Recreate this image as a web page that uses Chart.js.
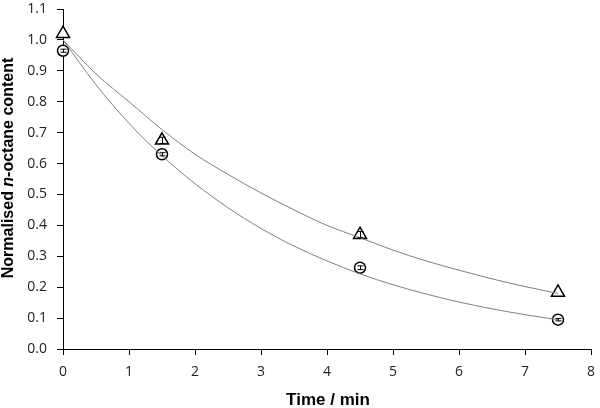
<!DOCTYPE html>
<html>
<head>
<meta charset="utf-8">
<script src="https://cdn.jsdelivr.net/npm/chart.js@4.4.1/dist/chart.umd.min.js"></script>
<style>
  body { margin: 0; background: #fff; }
  #wrap { width: 600px; height: 408px; }
</style>
</head>
<body>
<div id="wrap"><canvas id="chart" width="600" height="408"></canvas></div>
<script>
// measured points
const times = [0, 1.5, 4.5, 7.5]
const triValues = [1.02, 0.675, 0.37, 0.183]
const triErrors = [0, 0.01, 0.01, 0]
const circValues = [0.965, 0.63, 0.263, 0.095]
const circErrors = [0.005, 0.005, 0.006, 0.004]

// fitted curves
const fitTimes = [0, 0.5, 1, 1.5, 2, 2.5, 3, 3.5, 4, 4.5, 5, 5.5, 6, 6.5, 7, 7.5]
const fitUpper = [1.0, 0.89, 0.80, 0.71, 0.63, 0.565, 0.505, 0.45, 0.40, 0.36, 0.32, 0.285, 0.255, 0.227, 0.202, 0.18]
const fitLower = [1.0, 0.855, 0.73, 0.625, 0.535, 0.457, 0.39, 0.333, 0.285, 0.243, 0.208, 0.178, 0.152, 0.13, 0.111, 0.095]

const xTicks = [0, 1, 2, 3, 4, 5, 6, 7, 8]
const yTicks = [0, 0.1, 0.2, 0.3, 0.4, 0.5, 0.6, 0.7, 0.8, 0.9, 1.0, 1.1]

const toXY = (xs, ys) => xs.map((x, i) => ({ x: x, y: ys[i] }))

// error bars + axis titles (y title needs italic "n")
const extras = {
  id: 'extras',
  afterDatasetsDraw(chart) {
    const ctx = chart.ctx
    const xs = chart.scales.x, ys = chart.scales.y
    ctx.save()
    ctx.strokeStyle = '#000'
    ctx.lineWidth = 1
    const bars = [[triValues, triErrors], [circValues, circErrors]]
    bars.forEach(([vals, errs]) => {
      times.forEach((t, i) => {
        if (!errs[i]) return
        const px = Math.round(xs.getPixelForValue(t)) + 0.5
        const top = ys.getPixelForValue(vals[i] + errs[i])
        const bot = ys.getPixelForValue(vals[i] - errs[i])
        ctx.beginPath()
        ctx.moveTo(px, top); ctx.lineTo(px, bot)
        ctx.moveTo(px - 3, top); ctx.lineTo(px + 3, top)
        ctx.moveTo(px - 3, bot); ctx.lineTo(px + 3, bot)
        ctx.stroke()
      })
    })
    ctx.restore()
  },
  afterDraw(chart) {
    const ctx = chart.ctx
    const area = chart.chartArea
    ctx.save()
    ctx.fillStyle = '#000'
    ctx.textBaseline = 'middle'
    ctx.font = 'bold 17px "Liberation Sans", Arial, sans-serif'
    ctx.textAlign = 'center'
    ctx.fillText('Time / min', 328, 400)

    // rotated y title, mixed fonts
    const f = '16px "Liberation Sans", Arial, sans-serif'
    const parts = [
      ['Normalised ', 'bold ' + f],
      ['n', 'italic bold ' + f],
      ['-octane content', 'bold ' + f]
    ]
    let total = 0
    parts.forEach(p => { ctx.font = p[1]; total += ctx.measureText(p[0]).width })
    ctx.translate(9, 168)
    ctx.rotate(-Math.PI / 2)
    ctx.textAlign = 'left'
    let pos = -total / 2
    parts.forEach(p => {
      ctx.font = p[1]
      ctx.fillText(p[0], pos, 0)
      pos += ctx.measureText(p[0]).width
    })
    ctx.restore()
  }
}

const tickFont = { family: '"Open Sans", "DejaVu Sans", sans-serif', size: 14 }

new Chart(document.getElementById('chart'), {
  type: 'scatter',
  data: {
    datasets: [
      {
        label: 'fit upper',
        type: 'line',
        data: toXY(fitTimes, fitUpper),
        borderColor: '#7f7f7f',
        borderWidth: 1,
        pointRadius: 0,
        cubicInterpolationMode: 'monotone',
        fill: false
      },
      {
        label: 'fit lower',
        type: 'line',
        data: toXY(fitTimes, fitLower),
        borderColor: '#7f7f7f',
        borderWidth: 1,
        pointRadius: 0,
        cubicInterpolationMode: 'monotone',
        fill: false
      },
      {
        label: 'triangles',
        data: toXY(times, triValues),
        pointStyle: 'triangle',
        pointRadius: 7.5,
        backgroundColor: '#fff',
        borderColor: '#000',
        borderWidth: 1.5,
        clip: false
      },
      {
        label: 'circles',
        data: toXY(times, circValues),
        pointStyle: 'circle',
        pointRadius: 5.5,
        backgroundColor: '#fff',
        borderColor: '#000',
        borderWidth: 1.5,
        clip: false
      }
    ]
  },
  options: {
    responsive: false,
    animation: false,
    events: [],
    layout: { padding: { left: 0, right: 6, top: 5, bottom: 0 } },
    plugins: { legend: { display: false }, tooltip: { enabled: false } },
    scales: {
      x: {
        type: 'linear',
        min: 0,
        max: 8,
        afterBuildTicks: s => { s.ticks = xTicks.map(v => ({ value: v })) },
        afterFit: s => { s.height = 59; s.paddingLeft = 0; s.paddingRight = 0 },
        ticks: { font: tickFont, color: '#222', padding: 9 },
        grid: { drawOnChartArea: false, drawTicks: true, tickLength: 6, color: '#000' },
        border: { color: '#000', width: 1 }
      },
      y: {
        type: 'linear',
        min: 0,
        max: 1.1,
        afterBuildTicks: s => { s.ticks = yTicks.map(v => ({ value: v })) },
        afterFit: s => { s.width = 63; s.paddingTop = 0; s.paddingBottom = 0 },
        ticks: { font: tickFont, color: '#222', padding: 10, callback: v => v.toFixed(1) },
        grid: { drawOnChartArea: false, drawTicks: true, tickLength: 6, color: '#000' },
        border: { color: '#000', width: 1 }
      }
    }
  },
  plugins: [extras]
})
</script>
</body>
</html>
